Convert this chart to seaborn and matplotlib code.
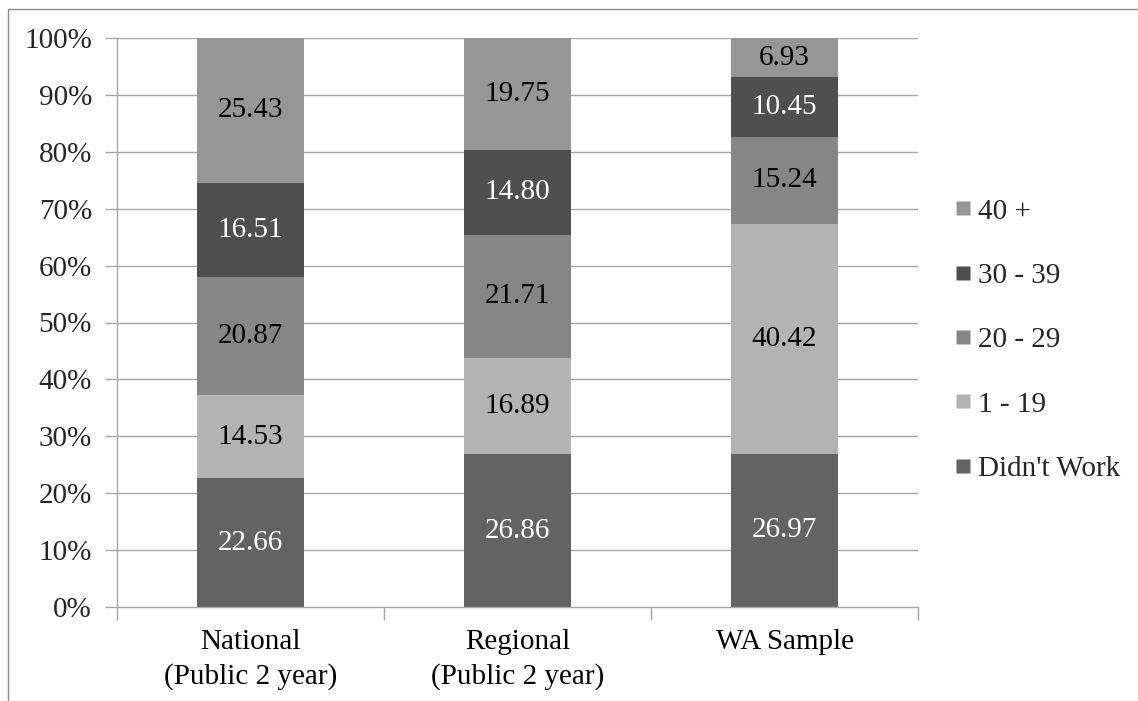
import matplotlib
matplotlib.use("Agg")
import matplotlib.pyplot as plt
import seaborn as sns
import numpy as np
import pandas as pd
from matplotlib.patches import Rectangle
from matplotlib.lines import Line2D

categories = ["National\n(Public 2 year)", "Regional\n(Public 2 year)", "WA Sample"]
series_names = ["Didn't Work", "1 - 19", "20 - 29", "30 - 39", "40 +"]
didnt_work = [22.66, 26.86, 26.97]
hrs_1_19 = [14.53, 16.89, 40.42]
hrs_20_29 = [20.87, 21.71, 15.24]
hrs_30_39 = [16.51, 14.80, 10.45]
hrs_40_plus = [25.43, 19.75, 6.93]
y_ticks = [0, 10, 20, 30, 40, 50, 60, 70, 80, 90, 100]
y_tick_labels = ["0%", "10%", "20%", "30%", "40%", "50%", "60%", "70%", "80%", "90%", "100%"]

series_values = [didnt_work, hrs_1_19, hrs_20_29, hrs_30_39, hrs_40_plus]
colors = ["#636363", "#b3b3b3", "#868686", "#4f4f4f", "#969696"]
label_colors = ["white", "black", "black", "white", "black"]

sns.set_theme(style="white")
plt.rcParams["font.family"] = ["Liberation Serif", "DejaVu Serif"]
FS = 21

fig = plt.figure(figsize=(11.38, 7.01), dpi=100)
W, H = 1138, 701
ax = fig.add_axes([117 / W, 1 - 607 / H, (918 - 117) / W, (607 - 38) / H])

grid_color = "#a6a6a6"
for yv in y_ticks[1:]:
    ax.axhline(yv, color=grid_color, lw=1.0, zorder=0)

bottom = np.zeros(len(categories))
for name, vals, col, lc in zip(series_names, series_values, colors, label_colors):
    df = pd.DataFrame({"cat": categories, "val": vals})
    sns.barplot(data=df, x="cat", y="val", order=categories, color=col,
                width=0.4, bottom=bottom, ax=ax, errorbar=None,
                saturation=1, edgecolor="none", linewidth=0, zorder=2)
    for i, v in enumerate(vals):
        ax.text(i, bottom[i] + v / 2, f"{v:.2f}", ha="center", va="center",
                color=lc, fontsize=FS, zorder=3)
    bottom = bottom + np.array(vals)

ax.set_xlim(-0.5, len(categories) - 0.5)
ax.set_ylim(0, 100)
ax.set_xlabel("")
ax.set_ylabel("")
ax.set_yticks(y_ticks)
ax.set_yticklabels(y_tick_labels, fontsize=FS)
ax.set_xticks(range(len(categories)))
ax.set_xticklabels(categories, fontsize=FS, linespacing=1.4)
ax.set_xticks(np.arange(-0.5, len(categories), 1.0), minor=True)
ax.tick_params(axis="x", which="major", length=0, pad=16, colors="black")
ax.tick_params(axis="x", which="minor", length=9, width=1, color=grid_color, direction="out")
ax.tick_params(axis="y", which="major", length=9, width=1, color=grid_color, pad=9, direction="out")
ax.tick_params(axis="y", which="minor", length=0)
ax.xaxis.set_tick_params(bottom=True, which="both")
ax.yaxis.set_tick_params(left=True)

for s in ["top", "right"]:
    ax.spines[s].set_visible(False)
for s in ["left", "bottom"]:
    ax.spines[s].set_color(grid_color)
    ax.spines[s].set_linewidth(1.0)
ax.set_facecolor("white")
ax.grid(False)

# legend (reverse order)
handles = [Line2D([0], [0], marker="s", linestyle="none", markersize=10.5,
                  markerfacecolor=c, markeredgecolor="none")
           for c in colors[::-1]]
leg = fig.legend(handles, series_names[::-1], loc="center left",
                 bbox_to_anchor=(940 / W, 1 - 340 / H), frameon=False,
                 fontsize=FS, handlelength=0.6, handletextpad=0.2,
                 labelspacing=1.3, borderpad=0)

# outer chart border
fig.patches.append(Rectangle((8 / W, -0.05), 1.1, 1 - 9 / H + 0.05,
                             transform=fig.transFigure, fill=False,
                             edgecolor="#8c8c8c", lw=1.0))

fig.savefig("out.png", dpi=100, facecolor="white")
